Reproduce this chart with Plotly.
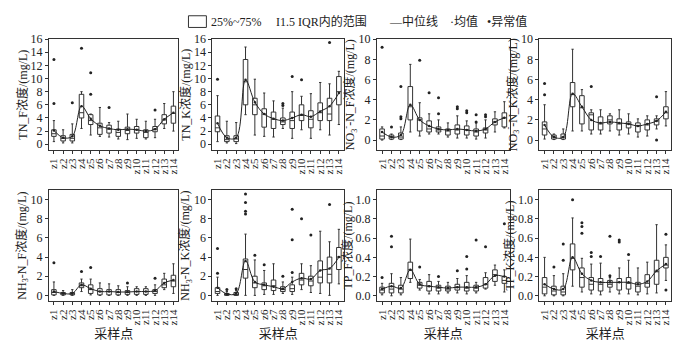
import plotly.graph_objects as go

cats = ["z1","z2","z3","z4","z5","z6","z7","z8","z9","z10","z11","z12","z13","z14"]

# ---- TN_F
tnf_q1  = [1.2,0.5,0.5,4.0,3.0,1.5,1.7,1.2,1.6,1.7,1.0,1.9,3.1,3.2]
tnf_med = [1.6,0.9,0.9,4.8,3.6,2.5,2.3,1.8,2.1,2.2,1.8,2.3,3.7,4.7]
tnf_q3  = [2.2,1.3,1.5,7.6,4.5,3.2,2.9,2.3,2.6,2.7,2.2,2.7,4.5,5.8]
tnf_lo  = [0.4,0.2,0.2,2.4,1.4,1.2,1.1,0.8,0.7,0.9,0.8,1.0,2.4,2.0]
tnf_hi  = [3.6,2.2,3.1,8.0,4.6,5.6,3.3,3.5,4.6,3.8,3.5,3.8,6.2,8.0]
tnf_mean= [2.1,1.0,1.2,5.8,3.9,2.8,2.4,2.2,2.3,2.2,2.0,2.3,3.8,4.8]
tnf_out = [[6.2,12.9],[],[6.3],[14.6],[7.6,10.9],[],[5.6],[],[],[],[],[5.2],[],[]]

# ---- TN_K
tnk_q1  = [1.9,0.4,0.4,6.0,4.5,2.6,2.4,3.0,2.4,3.6,2.5,3.6,3.6,6.0]
tnk_med = [2.5,0.7,0.8,9.5,6.0,4.6,3.8,3.4,3.6,4.4,3.8,4.8,4.6,8.0]
tnk_q3  = [4.3,1.3,1.3,12.9,7.0,5.4,4.9,4.0,4.9,6.0,5.1,6.3,7.0,10.3]
tnk_lo  = [0.4,0.2,0.1,4.5,1.4,1.2,1.1,2.4,0.9,2.2,0.9,2.2,1.4,3.0]
tnk_hi  = [7.4,3.5,3.3,14.8,9.9,7.8,6.6,5.5,8.0,7.3,7.7,9.4,9.2,11.1]
tnk_mean= [3.2,1.0,1.0,9.8,6.4,4.6,3.9,3.6,4.0,4.5,4.2,5.0,5.8,7.8]
tnk_out = [[9.9],[],[],[],[],[],[],[5.9,6.2],[10.3],[9.8],[],[],[15.5],[]]

# ---- NO3-N_F
nof_q1  = [0.1,0.1,0.1,2.0,0.9,0.8,0.8,0.5,0.6,0.5,0.4,0.7,1.5,1.3]
nof_med = [0.4,0.3,0.3,3.3,2.0,1.1,1.0,0.9,1.0,1.0,0.8,1.0,1.8,2.2]
nof_q3  = [1.1,0.5,0.7,5.3,2.2,1.9,1.3,1.1,1.5,1.4,1.1,1.2,2.1,2.7]
nof_lo  = [0.0,0.05,0.05,0.8,0.4,0.6,0.6,0.3,0.2,0.2,0.1,0.2,0.8,1.2]
nof_hi  = [1.3,0.6,1.3,7.5,3.7,2.6,2.0,1.7,2.4,1.9,1.7,2.0,2.8,3.8]
nof_mean= [0.8,0.3,0.5,3.5,2.0,1.4,1.1,1.0,1.1,1.0,0.9,1.1,1.8,2.2]
nof_out = [[9.2],[1.3],[2.1,2.3,5.3],[],[7.9],[4.7],[2.6,4.2],[],[3.1,3.3],[2.7,2.9],[1.8,2.5],[2.3,2.5],[],[]]

# ---- NO3-N_K
nok_q1  = [0.5,0.1,0.1,3.3,1.6,1.0,1.0,1.6,1.0,1.2,0.8,1.0,1.5,2.1]
nok_med = [1.1,0.3,0.3,4.5,3.2,2.5,1.6,2.0,1.6,1.6,1.4,1.5,1.9,2.7]
nok_q3  = [1.8,0.5,0.6,5.7,4.4,2.7,2.3,2.4,2.1,1.8,1.7,2.0,2.1,3.3]
nok_lo  = [0.1,0.05,0.05,0.9,0.9,0.6,0.6,0.9,0.5,0.6,0.3,0.4,1.1,1.4]
nok_hi  = [3.5,0.6,1.1,9.0,5.0,3.0,3.0,2.6,3.0,2.6,2.1,2.4,2.4,4.8]
nok_mean= [1.5,0.3,0.3,4.6,3.3,2.0,1.7,1.8,1.7,1.6,1.4,1.6,1.9,2.8]
nok_out = [[4.5,5.6],[],[],[],[],[5.3],[],[],[],[],[],[],[0.0,4.3],[]]

# ---- NH3-N_F
nhf_q1  = [0.05,0.05,0.05,0.8,0.2,0.05,0.05,0.05,0.1,0.1,0.1,0.2,0.8,0.9]
nhf_med = [0.3,0.15,0.15,1.0,0.6,0.4,0.4,0.3,0.3,0.4,0.4,0.4,1.1,1.5]
nhf_q3  = [0.6,0.3,0.3,1.3,1.1,0.7,0.6,0.6,0.5,0.7,0.7,0.6,1.7,2.1]
nhf_lo  = [0.0,0.0,0.0,0.4,0.05,0.0,0.0,0.0,0.0,0.0,0.0,0.0,0.6,0.2]
nhf_hi  = [1.4,0.5,0.6,1.7,1.7,1.3,1.2,1.0,0.9,0.9,0.9,1.1,2.3,3.3]
nhf_mean= [0.4,0.2,0.2,1.1,0.7,0.4,0.4,0.35,0.35,0.4,0.4,0.5,1.3,1.6]
nhf_out = [[3.4],[],[],[2.5],[2.9],[],[],[],[1.3],[],[],[1.8],[],[]]

# ---- NH3-N_K
nhk_q1  = [0.2,0.0,0.0,1.8,0.8,0.6,0.5,0.4,0.4,1.1,1.0,1.3,1.3,2.7]
nhk_med = [0.4,0.1,0.1,2.7,1.3,1.0,1.0,0.6,0.7,1.6,1.5,1.9,2.2,4.0]
nhk_q3  = [0.8,0.2,0.3,3.8,2.0,1.3,1.6,0.9,1.1,2.3,2.0,3.6,4.0,5.0]
nhk_lo  = [0.0,0.0,0.0,0.0,0.0,0.1,0.1,0.2,0.1,0.6,0.3,0.2,0.0,1.2]
nhk_hi  = [1.9,0.4,0.5,6.4,3.7,2.6,3.3,1.4,1.9,3.3,3.1,6.7,5.6,6.9]
nhk_mean= [0.8,0.15,0.2,3.6,1.4,1.1,0.9,0.7,1.4,1.8,1.7,2.6,2.8,4.0]
nhk_out = [[2.3,4.9],[0.6],[0.7],[8.5,8.8,9.7,10.6],[4.2],[3.2],[],[2.0],[2.4,5.8,9.0],[8.0],[6.3],[],[9.5],[]]

# ---- TP_F
tpf_q1  = [0.03,0.03,0.03,0.18,0.08,0.05,0.05,0.05,0.06,0.05,0.05,0.08,0.15,0.13]
tpf_med = [0.06,0.07,0.07,0.27,0.11,0.10,0.08,0.07,0.09,0.08,0.08,0.12,0.22,0.16]
tpf_q3  = [0.09,0.13,0.11,0.35,0.14,0.15,0.11,0.10,0.12,0.14,0.11,0.19,0.27,0.20]
tpf_lo  = [0.01,0.0,0.01,0.14,0.06,0.02,0.02,0.03,0.03,0.02,0.03,0.07,0.11,0.04]
tpf_hi  = [0.13,0.23,0.19,0.59,0.17,0.22,0.15,0.14,0.18,0.21,0.14,0.24,0.32,0.27]
tpf_mean= [0.07,0.10,0.08,0.27,0.12,0.10,0.09,0.08,0.09,0.09,0.09,0.12,0.21,0.20]
tpf_out = [[0.19],[0.51,0.62],[],[],[0.30],[],[0.20],[],[0.26],[0.28,0.41],[0.58],[0.51],[],[0.75]]

# ---- TP_K
tpk_q1  = [0.02,0.01,0.01,0.27,0.09,0.06,0.05,0.09,0.06,0.07,0.04,0.09,0.12,0.29]
tpk_med = [0.09,0.05,0.04,0.39,0.19,0.12,0.12,0.12,0.14,0.13,0.10,0.13,0.25,0.32]
tpk_q3  = [0.19,0.10,0.10,0.54,0.29,0.19,0.18,0.16,0.18,0.19,0.14,0.22,0.37,0.40]
tpk_lo  = [0.0,0.0,0.0,0.10,0.04,0.02,0.01,0.04,0.02,0.02,0.01,0.02,0.03,0.16]
tpk_hi  = [0.40,0.21,0.23,0.81,0.39,0.33,0.34,0.19,0.29,0.37,0.29,0.35,0.74,0.53]
tpk_mean= [0.12,0.07,0.07,0.40,0.23,0.16,0.14,0.14,0.14,0.14,0.12,0.15,0.26,0.33]
tpk_out = [[],[0.30],[0.37,0.54],[1.0],[0.65,0.72,0.76],[0.41,0.45],[0.41],[0.21,0.62],[0.56,0.58],[0.43],[],[],[],[0.06,0.64]]

titles = ["TN_F浓度/(mg/L)", "TN_K浓度/(mg/L)",
          "NO<sub>3</sub><sup>-</sup>-N_F浓度/(mg/L)", "NO<sub>3</sub><sup>-</sup>-N_K浓度/(mg/L)",
          "NH<sub>3</sub>-N_F浓度/(mg/L)", "NH<sub>3</sub>-N_K浓度/(mg/L)",
          "TP_F浓度/(mg/L)", "TP_K浓度/(mg/L)"]

panels = [
    (tnf_q1,tnf_med,tnf_q3,tnf_lo,tnf_hi,tnf_mean,tnf_out),
    (tnk_q1,tnk_med,tnk_q3,tnk_lo,tnk_hi,tnk_mean,tnk_out),
    (nof_q1,nof_med,nof_q3,nof_lo,nof_hi,nof_mean,nof_out),
    (nok_q1,nok_med,nok_q3,nok_lo,nok_hi,nok_mean,nok_out),
    (nhf_q1,nhf_med,nhf_q3,nhf_lo,nhf_hi,nhf_mean,nhf_out),
    (nhk_q1,nhk_med,nhk_q3,nhk_lo,nhk_hi,nhk_mean,nhk_out),
    (tpf_q1,tpf_med,tpf_q3,tpf_lo,tpf_hi,tpf_mean,tpf_out),
    (tpk_q1,tpk_med,tpk_q3,tpk_lo,tpk_hi,tpk_mean,tpk_out),
]

yranges = [[-0.9,16],[-0.9,16],[-1.0,10],[-1.0,10],[-0.6,11],[-0.6,11],[-0.055,1.1],[-0.055,1.1]]
dticks = [2,2,2,2,2,2,0.2,0.2]
tfmt = ["","","","","","",".1f",".1f"]

W, H = 692, 344
xpx = [(48,178),(212,344),(377,510),(540,672)]
ypx = [(33,147),(188,302)]

SERIF = "Liberation Serif, Noto Sans CJK SC"
fig = go.Figure()
layout = {}
for i, (q1,med,q3,lo,hi,mean,out) in enumerate(panels):
    r, c = divmod(i, 4)
    n = "" if i == 0 else str(i+1)
    xa, ya = "x"+n, "y"+n
    fig.add_trace(go.Box(x=cats, q1=q1, median=med, q3=q3, lowerfence=lo, upperfence=hi,
                         xaxis=xa, yaxis=ya, fillcolor="white",
                         line=dict(color="#333333", width=1), whiskerwidth=0.5,
                         boxpoints=False, showlegend=False, hoverinfo="skip"))
    fig.add_trace(go.Scatter(x=cats, y=mean, mode="lines", line=dict(color="#222222", width=1, shape="spline", smoothing=1.0),
                             xaxis=xa, yaxis=ya, showlegend=False, hoverinfo="skip"))
    fig.add_trace(go.Scatter(x=cats, y=mean, mode="markers", marker=dict(color="#222222", size=2.5),
                             xaxis=xa, yaxis=ya, showlegend=False, hoverinfo="skip"))
    ox, oy = [], []
    for k, vals in enumerate(out):
        for v in vals:
            ox.append(cats[k]); oy.append(v)
    fig.add_trace(go.Scatter(x=ox, y=oy, mode="markers", marker=dict(color="#222222", size=3),
                             xaxis=xa, yaxis=ya, showlegend=False, hoverinfo="skip"))
    x0, x1 = xpx[c]
    y0, y1 = ypx[r]
    xax = dict(domain=[x0/W, x1/W], anchor=ya, type="category",
               categoryorder="array", categoryarray=cats, range=[-0.55, 13.55],
               tickmode="array", tickvals=cats, ticktext=cats,
               tickangle=-90, showline=True, mirror=True, linecolor="#333333", linewidth=1,
               ticks="outside", ticklen=3, tickcolor="#333333",
               tickfont=dict(family=SERIF, size=11, color="#222222"),
               showgrid=False, zeroline=False)
    if r == 1:
        xax["title"] = dict(text="采样点", font=dict(family=SERIF, size=13, color="#222222"), standoff=4)
    layout["xaxis"+n] = xax
    layout["yaxis"+n] = dict(domain=[1-y1/H, 1-y0/H], anchor=xa, range=yranges[i], dtick=dticks[i], tick0=0,
                             tickformat=tfmt[i], showline=True, mirror=True, linecolor="#333333", linewidth=1,
                             ticks="outside", ticklen=3, tickcolor="#333333",
                             tickfont=dict(family=SERIF, size=12, color="#222222"),
                             showgrid=False, zeroline=False,
                             title=dict(text=titles[i], font=dict(family=SERIF, size=12, color="#222222"), standoff=0))

fy = lambda p: 1 - p/H
fx = lambda p: p/W
ann = []
leg_items = [(209, "25%~75%"), (274, "I1.5 IQR内的范围"), (387, "—中位线"), (448, "·均值"), (485, "•异常值")]
for px, t in leg_items:
    ann.append(dict(x=fx(px), y=fy(15), xref="paper", yref="paper", text=t, showarrow=False,
                    xanchor="left", yanchor="middle", font=dict(family=SERIF, size=12, color="#222222")))
shapes = [dict(type="rect", xref="paper", yref="paper", x0=fx(188), x1=fx(206), y0=fy(21), y1=fy(9),
               line=dict(color="#333333", width=1), fillcolor="white")]

fig.update_layout(width=W, height=H, margin=dict(l=0, r=0, t=0, b=0),
                  plot_bgcolor="white", paper_bgcolor="white",
                  annotations=ann, shapes=shapes, **layout)
fig.write_html("out.html")
